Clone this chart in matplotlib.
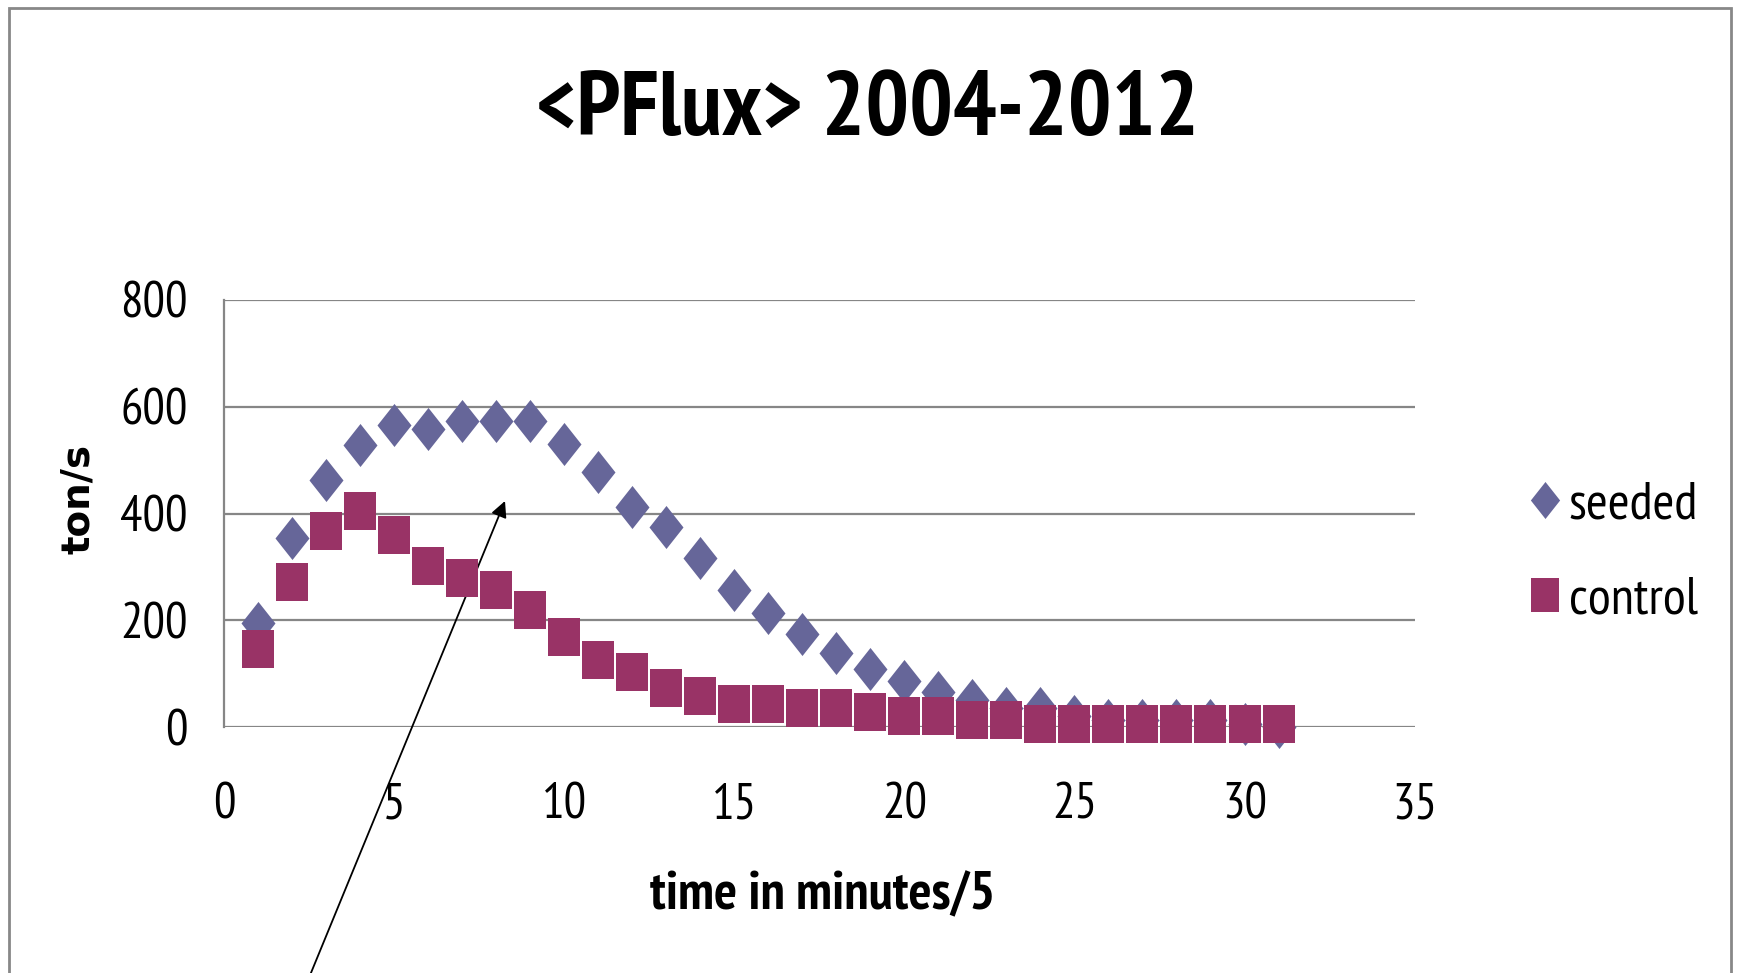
import numpy as np
import matplotlib
matplotlib.use("Agg")
import matplotlib.pyplot as plt
from matplotlib.patches import Rectangle

# values
time_steps = list(range(1, 32))
seeded = [195, 354, 463, 529, 566, 559, 574, 574, 574, 530, 478, 412, 375, 316, 257,
          213, 175, 138, 109, 86, 65, 50, 36, 36, 21, 14, 14, 14, 14, 6, 0]
control = [147, 272, 368, 405, 360, 302, 280, 257, 220, 168, 125, 103, 74, 59, 44,
           44, 36, 36, 28, 21, 21, 13, 13, 6, 6, 6, 6, 6, 6, 6, 6]
x_ticks = [0, 5, 10, 15, 20, 25, 30, 35]
y_ticks = [0, 200, 400, 600, 800]

W, H = 1737, 973
plt.rcParams["font.family"] = ["PT Sans Narrow", "Carlito", "DejaVu Sans"]

fig = plt.figure(figsize=(W / 100, H / 100), dpi=100)
ax = fig.add_axes([224 / W, 1 - 727 / H, (1414.6 - 224) / W, (727 - 300) / H])

# elongated diamond and square markers like the Excel chart
diamond = [(0, 1), (0.79, 0), (0, -1), (-0.79, 0), (0, 1)]
square = [(-0.41, -0.5), (0.41, -0.5), (0.41, 0.5), (-0.41, 0.5), (-0.41, -0.5)]

ax.plot(time_steps, seeded, linestyle="none", marker=diamond, markersize=31,
        color="#666699", markeredgewidth=0, label="seeded", clip_on=False, zorder=3)
ax.plot(time_steps, control, linestyle="none", marker=square, markersize=28,
        color="#993366", markeredgewidth=0, label="control", clip_on=False, zorder=4)

ax.set_xlim(0, 35)
ax.set_ylim(0, 800)
ax.set_xticks(x_ticks)
ax.set_yticks(y_ticks)
ax.tick_params(axis="both", length=0, labelsize=36)
ax.tick_params(axis="y", pad=26)
ax.tick_params(axis="x", pad=40)
ax.yaxis.grid(True, color="#868686", linewidth=1.6)
ax.set_axisbelow(True)
for side in ["top", "right", "bottom"]:
    ax.spines[side].set_visible(False)
ax.spines["left"].set_color("#868686")
ax.spines["left"].set_linewidth(1.6)

fig.text(0.4995, 1 - 135 / H, "<PFlux> 2004-2012", ha="center", va="baseline",
         fontsize=66, fontweight="bold")
fig.text(743 / 1568, 1 - 909 / H, "time in minutes/5", ha="center", va="baseline",
         fontsize=39, fontweight="bold")
fig.text(78 / W, 1 - 499 / H, "ton/s", ha="center", va="center", rotation=90,
         fontsize=28, fontweight="bold", family="DejaVu Sans")

ax.legend(loc="center left", bbox_to_anchor=(1529 / W, 1 - 553 / H),
          bbox_transform=fig.transFigure, frameon=False, fontsize=38,
          markerscale=0.86, handlelength=0.6, handletextpad=0.15,
          labelspacing=0.9, borderpad=0, borderaxespad=0)

# grey outer frame and the annotation arrow
fig.add_artist(Rectangle((9 / W, -0.05), (1731 - 9) / W, 1 - 8 / H + 0.05,
                         transform=fig.transFigure, fill=False,
                         edgecolor="#888888", linewidth=2))
ax.annotate("", xy=(505 / W, 1 - 501 / H), xycoords="figure fraction",
            xytext=(306 / W, 1 - 985 / H), textcoords="figure fraction",
            arrowprops=dict(arrowstyle="-|>", color="black", lw=1.3,
                            mutation_scale=24, shrinkA=0, shrinkB=0),
            annotation_clip=False)

fig.savefig("out.png", dpi=100)
